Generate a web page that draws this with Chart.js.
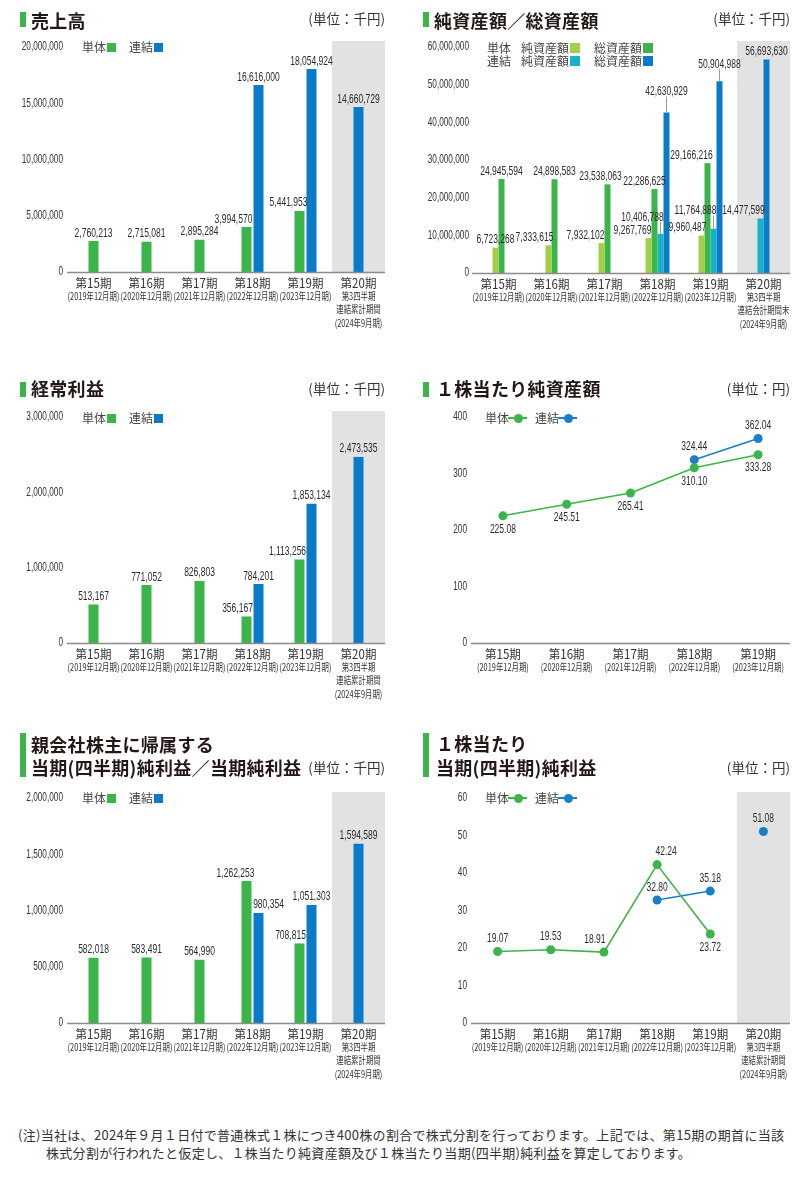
<!DOCTYPE html>
<html><head><meta charset="utf-8">
<script src="https://cdn.jsdelivr.net/npm/chart.js@4.4.1/dist/chart.umd.min.js"></script>
<style>
html,body{margin:0;padding:0;background:#fff;}
#page{position:relative;width:800px;height:1178px;overflow:hidden;font-family:"Noto Sans CJK JP","Noto Sans",sans-serif;color:#333;}
canvas{position:absolute;}
.t{position:absolute;white-space:nowrap;font-weight:700;font-size:18px;line-height:18px;color:#231815;letter-spacing:0.3px;z-index:2;}
.tb{position:absolute;width:6px;background:#3BB54A;z-index:2;}
.u{position:absolute;white-space:nowrap;font-size:13.5px;line-height:14px;color:#333;z-index:2;}
.lg{position:absolute;white-space:nowrap;font-size:12px;line-height:12px;color:#444;z-index:2;}
.sq{position:absolute;width:9px;height:9px;z-index:2;}
.sq10{position:absolute;width:10px;height:10px;z-index:2;}
.ln{position:absolute;height:1.5px;width:19px;z-index:2;}
.dot{position:absolute;width:9px;height:9px;border-radius:50%;z-index:3;}
.note{position:absolute;white-space:nowrap;font-size:13px;line-height:16px;color:#333;letter-spacing:0.3px;}
</style></head>
<body><div id="page">
<canvas id="c1" width="400" height="345" style="left:0;top:0"></canvas>
<canvas id="c2" width="400" height="345" style="left:400px;top:0"></canvas>
<canvas id="c3" width="400" height="345" style="left:0;top:370px"></canvas>
<canvas id="c4" width="400" height="310" style="left:400px;top:370px"></canvas>
<canvas id="c5" width="400" height="370" style="left:0;top:730px"></canvas>
<canvas id="c6" width="400" height="370" style="left:400px;top:730px"></canvas>

<!-- chart 1 -->
<div class="tb" style="left:20px;top:12px;height:15px"></div>
<div class="t" style="left:31px;top:11px">売上高</div>
<div class="u" style="right:415px;top:11px">(単位：千円)</div>
<div class="lg" style="left:82px;top:41px">単体</div><div class="sq" style="left:107px;top:43px;background:#3BB54A"></div>
<div class="lg" style="left:129px;top:41px">連結</div><div class="sq" style="left:154px;top:43px;background:#0A7BC9"></div>

<!-- chart 2 -->
<div class="tb" style="left:423px;top:12px;height:15px"></div>
<div class="t" style="left:434px;top:11px">純資産額／総資産額</div>
<div class="u" style="right:10px;top:11px">(単位：千円)</div>
<div class="lg" style="left:487px;top:42px">単体</div>
<div class="lg" style="left:521px;top:42px">純資産額</div><div class="sq10" style="left:570px;top:43px;background:#A3CE4A"></div>
<div class="lg" style="left:594px;top:42px">総資産額</div><div class="sq10" style="left:643px;top:43px;background:#3BB54A"></div>
<div class="lg" style="left:487px;top:55px">連結</div>
<div class="lg" style="left:521px;top:55px">純資産額</div><div class="sq10" style="left:570px;top:56px;background:#17B1C9"></div>
<div class="lg" style="left:594px;top:55px">総資産額</div><div class="sq10" style="left:643px;top:56px;background:#0A7BC9"></div>

<!-- chart 3 -->
<div class="tb" style="left:20px;top:382px;height:15px"></div>
<div class="t" style="left:31px;top:379px">経常利益</div>
<div class="u" style="right:415px;top:381px">(単位：千円)</div>
<div class="lg" style="left:82px;top:412px">単体</div><div class="sq" style="left:107px;top:414px;background:#3BB54A"></div>
<div class="lg" style="left:129px;top:412px">連結</div><div class="sq" style="left:154px;top:414px;background:#0A7BC9"></div>

<!-- chart 4 -->
<div class="tb" style="left:423px;top:382px;height:15px"></div>
<div class="t" style="left:436px;top:379px">１株当たり純資産額</div>
<div class="u" style="right:10px;top:381px">(単位：円)</div>
<div class="lg" style="left:485px;top:412px">単体</div><div class="ln" style="left:508px;top:417px;background:#3BB54A"></div><div class="dot" style="left:513.5px;top:413.5px;background:#3BB54A"></div>
<div class="lg" style="left:535px;top:412px">連結</div><div class="ln" style="left:558px;top:417px;background:#1A7FC8"></div><div class="dot" style="left:563.5px;top:413.5px;background:#1A7FC8"></div>

<!-- chart 5 -->
<div class="tb" style="left:20px;top:733px;height:44px"></div>
<div class="t" style="left:31px;top:735px">親会社株主に帰属する</div>
<div class="t" style="left:31px;top:758px">当期(四半期)純利益／当期純利益</div>
<div class="u" style="right:415px;top:760px">(単位：千円)</div>
<div class="lg" style="left:82px;top:792px">単体</div><div class="sq" style="left:107px;top:794px;background:#3BB54A"></div>
<div class="lg" style="left:129px;top:792px">連結</div><div class="sq" style="left:154px;top:794px;background:#0A7BC9"></div>

<!-- chart 6 -->
<div class="tb" style="left:423px;top:733px;height:44px"></div>
<div class="t" style="left:436px;top:734px">１株当たり</div>
<div class="t" style="left:436px;top:758px">当期(四半期)純利益</div>
<div class="u" style="right:10px;top:760px">(単位：円)</div>
<div class="lg" style="left:485px;top:792px">単体</div><div class="ln" style="left:508px;top:797px;background:#3BB54A"></div><div class="dot" style="left:513.5px;top:793.5px;background:#3BB54A"></div>
<div class="lg" style="left:535px;top:792px">連結</div><div class="ln" style="left:558px;top:797px;background:#1A7FC8"></div><div class="dot" style="left:563.5px;top:793.5px;background:#1A7FC8"></div>

<div class="note" style="left:18px;top:1127px">(注)当社は、2024年９月１日付で普通株式１株につき400株の割合で株式分割を行っております。上記では、第15期の期首に当該</div>
<div class="note" style="left:46px;top:1145px">株式分割が行われたと仮定し、１株当たり純資産額及び１株当たり当期(四半期)純利益を算定しております。</div>
</div>
<script>
// ---------- data ----------
const periods = ['第15期','第16期','第17期','第18期','第19期','第20期'];
const periodNotes = [['(2019年12月期)'],['(2020年12月期)'],['(2021年12月期)'],['(2022年12月期)'],['(2023年12月期)'],['第3四半期','連結累計期間','(2024年9月期)']];
const periodNotesBS = [['(2019年12月期)'],['(2020年12月期)'],['(2021年12月期)'],['(2022年12月期)'],['(2023年12月期)'],['第3四半期','連結会計期間末','(2024年9月期)']];

const salesSingle = [2760213, 2715081, 2895284, 3994570, 5441953, null];
const salesConsol = [null, null, null, 16616000, 18054924, 14660729];
const salesTicks = [0, 5000000, 10000000, 15000000, 20000000];

const netAssetsSingle = [6723268, 7333615, 7932102, 9267769, 9960487, null];
const totalAssetsSingle = [24945594, 24898583, 23538063, 22286625, 29166216, null];
const netAssetsConsol = [null, null, null, 10406788, 11764888, 14477599];
const totalAssetsConsol = [null, null, null, 42630929, 50904988, 56693630];
const assetTicks = [0, 10000000, 20000000, 30000000, 40000000, 50000000, 60000000];

const ordinarySingle = [513167, 771052, 826803, 356167, 1113256, null];
const ordinaryConsol = [null, null, null, 784201, 1853134, 2473535];
const ordinaryTicks = [0, 1000000, 2000000, 3000000];

const bpsSingle = [225.08, 245.51, 265.41, 310.10, 333.28];
const bpsConsol = [null, null, null, 324.44, 362.04];
const bpsTicks = [0, 100, 200, 300, 400];

const netIncomeSingle = [582018, 583491, 564990, 1262253, 708815, null];
const netIncomeConsol = [null, null, null, 980354, 1051303, 1594589];
const netIncomeTicks = [0, 500000, 1000000, 1500000, 2000000];

const epsSingle = [19.07, 19.53, 18.91, 42.24, 23.72, null];
const epsConsol = [null, null, null, 32.80, 35.18, 51.08];
const epsTicks = [0, 10, 20, 30, 40, 50, 60];

// ---------- styles ----------
const FONT_NUM = '"Liberation Sans","Arial",sans-serif';
const FONT_JP = '"Noto Sans CJK JP","Noto Sans",sans-serif';
const C = {green:'#3BB54A', blue:'#0A7BC9', lblue:'#1A7FC8', lime:'#A3CE4A', teal:'#17B1C9', band:'#E2E2E2', axis:'#8C8C8C', text:'#333'};
const fmtInt = v => v.toLocaleString('en-US');
const fmtDec = v => v.toFixed(2);

// label nudges (px): [dx, dy, leaderLift]
const adj1 = [[0,0],[0,0],[0,0],[-13,0],[-11,0],[0,0]];
const adj2a = [[0,0],[-14,0],[-16,0],[-16,0],[-14,0]];
const adj2b = [[0,0],[0,0],[-7,0],[-10,0],[-16,0]];
const adj2c = [null,null,null,[-18,0,9],[-18,0,10],[-17,0]];
const adj2d = [null,null,null,[0,0,13],[0,0,9],[0,0]];
const adj3 = [[0,0],[0,0],[0,0],[-9,0],[-12,0]];
const adj5a = [[0,0],[0,0],[0,0],[-11,0],[-9,0]];
const adj5b = [null,null,null,[10,0],[0,0],[0,0]];
const adj6a = [[0,0],[0,0],[-9,0],[9,0],[0,26]];

function squeezeText(ctx, text, x, y, font, sx, color, align) {
  ctx.save();
  ctx.font = font; ctx.fillStyle = color; ctx.textAlign = align || 'center'; ctx.textBaseline = 'middle';
  ctx.translate(x, y); ctx.scale(sx, 1); ctx.fillText(text, 0, 0);
  ctx.restore();
}

const decor = {
  id: 'decor',
  beforeDatasetsDraw(chart, args, o) {
    const {ctx, chartArea: a} = chart; const x = chart.scales.x;
    if (o.band) {
      const n = chart.data.labels.length;
      const c = x.getPixelForValue(n - 1), p = x.getPixelForValue(n - 2);
      const left = (c + p) / 2;
      ctx.save(); ctx.fillStyle = C.band;
      ctx.fillRect(left, a.top - 6, a.right - left, a.bottom - a.top + 6);
      ctx.restore();
    }
  },
  afterDatasetsDraw(chart, args, o) {
    const {ctx, chartArea: a} = chart; const x = chart.scales.x; const y = chart.scales.y;
    ctx.save(); ctx.strokeStyle = C.axis; ctx.lineWidth = 1.5;
    ctx.beginPath(); ctx.moveTo(a.left, a.bottom + 0.5); ctx.lineTo(a.right, a.bottom + 0.5); ctx.stroke();
    ctx.restore();
    // y tick labels (condensed)
    y.ticks.forEach(t => {
      squeezeText(ctx, t.value.toLocaleString('en-US'), a.left - o.tickPad, y.getPixelForValue(t.value), '12.5px ' + FONT_NUM, 0.66, C.text, 'right');
    });
    // x category labels
    chart.data.labels.forEach((lab, i) => {
      const px = x.getPixelForValue(i);
      squeezeText(ctx, lab, px, a.bottom + 11, '12.5px ' + FONT_JP, 0.92, C.text);
      (o.notes[i] || []).forEach((s, k) => squeezeText(ctx, s, px, a.bottom + 24 + k * 13.5, '10px ' + FONT_JP, 0.74, C.text));
    });
    // value labels
    chart.data.datasets.forEach((ds, di) => {
      const cfg = o.labels[di]; if (!cfg) return;
      const meta = chart.getDatasetMeta(di);
      meta.data.forEach((el, j) => {
        const v = ds.data[j]; if (v === null || v === undefined) return;
        const ad = (cfg.adj && cfg.adj[j]) || [0, 0, 0];
        const dx = ad[0] || 0, dy = ad[1] || 0, lift = ad[2] || 0;
        let ty;
        if (cfg.pos === 'below') ty = el.y + 13;
        else if (cfg.pos === 'above') ty = el.y - 13;
        else ty = el.y - 8 - lift;
        ty += dy;
        if (lift) {
          ctx.save(); ctx.strokeStyle = '#9a9a9a'; ctx.lineWidth = 1;
          ctx.beginPath(); ctx.moveTo(el.x, el.y); ctx.lineTo(el.x, el.y - lift - 3); ctx.stroke(); ctx.restore();
        }
        squeezeText(ctx, cfg.fmt(v), el.x + dx, ty, '13.5px ' + FONT_NUM, 0.63, '#2b2b2b');
      });
    });
  }
};

function build(id, type, labels, notes, datasets, ticks, box, labelCfg, band) {
  const [yW, xH, padTop, padRight, tickPad] = box;
  return new Chart(document.getElementById(id), {
    type,
    data: {labels, datasets},
    options: {
      responsive: false, animation: false, events: [],
      layout: {padding: {top: padTop, right: padRight, left: 0, bottom: 0}},
      plugins: {legend: {display: false}, tooltip: {enabled: false}, decor: {band, notes, labels: labelCfg, tickPad}},
      scales: {
        x: {type: 'category', offset: true, grid: {display: false}, border: {display: false}, ticks: {display: false},
            afterFit: s => { s.height = xH; }},
        y: {min: ticks[0], max: ticks[ticks.length - 1], grid: {display: false}, border: {display: false},
            afterBuildTicks: s => { s.ticks = ticks.map(v => ({value: v})); },
            ticks: {display: false},
            afterFit: s => { s.width = yW; }}
      }
    },
    plugins: [decor]
  });
}

const barStyle = color => ({backgroundColor: color, barThickness: 12, borderWidth: {left: 1, right: 1, top: 0, bottom: 0},
  borderColor: 'rgba(0,0,0,0)', borderSkipped: false, inflateAmount: 0, skipNull: true});
const thinBar = color => ({backgroundColor: color, barThickness: 6, borderWidth: 0, inflateAmount: 0, skipNull: true});
const lineStyle = color => ({borderColor: color, backgroundColor: color, borderWidth: 1.6, pointRadius: 4.5,
  pointBorderWidth: 0, pointBackgroundColor: color, spanGaps: false, fill: false});

// chart 1: sales
build('c1', 'bar', periods, periodNotes, [
  Object.assign({label: '単体', data: salesSingle}, barStyle(C.green)),
  Object.assign({label: '連結', data: salesConsol}, barStyle(C.blue))
], salesTicks, [67, 73, 47, 15, 4],
  [{fmt: fmtInt, adj: adj1}, {fmt: fmtInt}], true);

// chart 2: net / total assets
build('c2', 'bar', periods, periodNotesBS, [
  Object.assign({label: '単体 純資産額', data: netAssetsSingle}, thinBar(C.lime)),
  Object.assign({label: '単体 総資産額', data: totalAssetsSingle}, thinBar(C.green)),
  Object.assign({label: '連結 純資産額', data: netAssetsConsol}, thinBar(C.teal)),
  Object.assign({label: '連結 総資産額', data: totalAssetsConsol}, thinBar(C.blue))
], assetTicks, [72, 72, 47, 10, 3],
  [{fmt: fmtInt, adj: adj2a}, {fmt: fmtInt, adj: adj2b}, {fmt: fmtInt, adj: adj2c}, {fmt: fmtInt, adj: adj2d}], true);

// chart 3: ordinary profit
build('c3', 'bar', periods, periodNotes, [
  Object.assign({label: '単体', data: ordinarySingle}, barStyle(C.green)),
  Object.assign({label: '連結', data: ordinaryConsol}, barStyle(C.blue))
], ordinaryTicks, [67, 72, 47, 15, 4],
  [{fmt: fmtInt, adj: adj3}, {fmt: fmtInt}], true);

// chart 4: BPS
build('c4', 'line', periods.slice(0, 5), periodNotes.slice(0, 5), [
  Object.assign({label: '単体', data: bpsSingle}, lineStyle(C.green)),
  Object.assign({label: '連結', data: bpsConsol}, lineStyle(C.lblue))
], bpsTicks, [71, 37, 47, 10, 4],
  [{fmt: fmtDec, pos: 'below'}, {fmt: fmtDec, pos: 'above'}], false);

// chart 5: net income
build('c5', 'bar', periods, periodNotes, [
  Object.assign({label: '単体', data: netIncomeSingle}, barStyle(C.green)),
  Object.assign({label: '連結', data: netIncomeConsol}, barStyle(C.blue))
], netIncomeTicks, [67, 77, 68, 15, 4],
  [{fmt: fmtInt, adj: adj5a}, {fmt: fmtInt, adj: adj5b}], true);

// chart 6: EPS
build('c6', 'line', periods, periodNotes, [
  Object.assign({label: '単体', data: epsSingle}, lineStyle(C.green)),
  Object.assign({label: '連結', data: epsConsol,
    segment: {borderColor: ctx => (ctx.p1DataIndex === periods.length - 1 ? 'rgba(0,0,0,0)' : undefined)}}, lineStyle(C.lblue))
], epsTicks, [71, 77, 68, 10, 4],
  [{fmt: fmtDec, pos: 'above', adj: adj6a}, {fmt: fmtDec, pos: 'above'}], true);
</script>
</body></html>
